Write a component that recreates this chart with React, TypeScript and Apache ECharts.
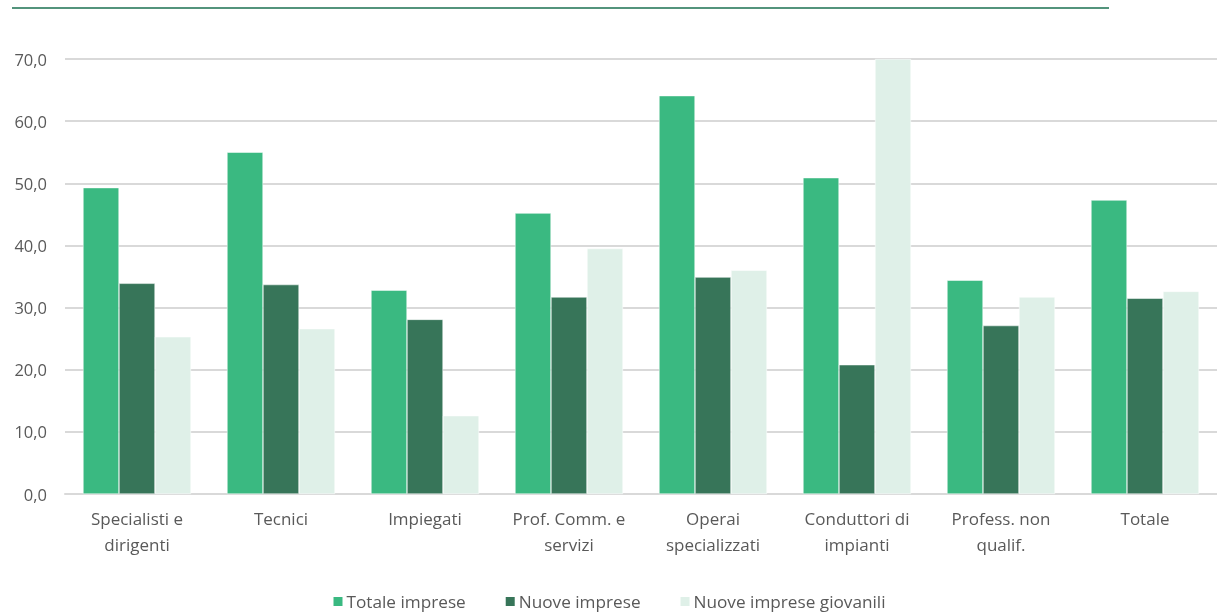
import React, { useEffect, useRef } from "react";
import * as echarts from "echarts";

const categories = [
  "Specialisti e\ndirigenti",
  "Tecnici",
  "Impiegati",
  "Prof. Comm. e\nservizi",
  "Operai\nspecializzati",
  "Conduttori di\nimpianti",
  "Profess. non\nqualif.",
  "Totale",
];
const totaleImprese = [49.3, 55.0, 32.8, 45.2, 64.1, 50.9, 34.4, 47.3];
const nuoveImprese = [33.9, 33.7, 28.1, 31.7, 34.9, 20.8, 27.1, 31.5];
const nuoveImpreseGiovanili = [25.3, 26.6, 12.6, 39.5, 36.0, 70.0, 31.7, 32.6];
const seriesNames = ["Totale imprese", "Nuove imprese", "Nuove imprese giovanili"];
const colors = ["#3ab981", "#377559", "#dff0e8"];

export default function App() {
  const ref = useRef<HTMLDivElement>(null);
  useEffect(() => {
    if (!ref.current) return;
    const chart = echarts.init(ref.current, undefined, { renderer: "svg" });
    const font = "'Open Sans', 'Noto Sans', sans-serif";
    const mk = (name: string, data: number[], color: string) => ({
      name,
      type: "bar",
      data,
      barGap: "0%",
      barCategoryGap: "25%",
      itemStyle: { color, borderColor: "#ffffff", borderWidth: 0.5 },
    });
    chart.setOption({
      animation: false,
      textStyle: { fontFamily: font },
      graphic: [
        {
          type: "line",
          shape: { x1: 12, y1: 8, x2: 1109, y2: 8 },
          style: { stroke: "#1a7050", lineWidth: 1.5 },
        },
      ],
      grid: { left: 65, right: -6, top: 59, bottom: 118, containLabel: false },
      legend: {
        bottom: -3,
        left: "center",
        itemWidth: 11,
        itemHeight: 11,
        itemGap: 38,
        icon: "rect",
        textStyle: { color: "#595959", fontSize: 17.2, fontFamily: font, padding: [0, 0, 0, -2] },
        data: seriesNames,
      },
      xAxis: {
        type: "category",
        data: categories,
        axisTick: { show: false },
        axisLine: { show: true, lineStyle: { color: "#d9d9d9", width: 2 } },
        axisLabel: {
          color: "#595959",
          fontSize: 17,
          lineHeight: 26,
          margin: 11,
          interval: 0,
          fontFamily: font,
        },
      },
      yAxis: {
        type: "value",
        min: 0,
        max: 70,
        interval: 10,
        axisLine: { show: false },
        axisTick: { show: false },
        splitLine: { lineStyle: { color: "#d9d9d9", width: 2 } },
        axisLabel: {
          color: "#595959",
          fontSize: 16.5,
          margin: 18,
          fontFamily: font,
          formatter: (v: number) => v.toFixed(1).replace(".", ","),
        },
      },
      series: [
        mk(seriesNames[0], totaleImprese, colors[0]),
        mk(seriesNames[1], nuoveImprese, colors[1]),
        mk(seriesNames[2], nuoveImpreseGiovanili, colors[2]),
      ],
    });
    return () => chart.dispose();
  }, []);
  return (
    <div
      ref={ref}
      style={{ position: "fixed", left: 0, top: 0, width: 1217, height: 612 }}
    />
  );
}
